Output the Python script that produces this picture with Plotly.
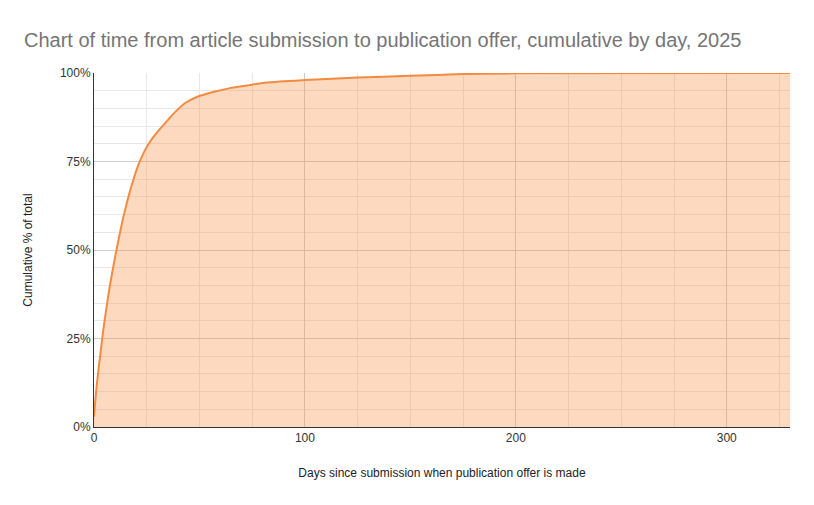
import plotly.graph_objects as go

# Days since submission and cumulative % of offers made by that day
days = [0, 1, 2, 3, 4, 5, 6, 7, 8, 10, 12, 14, 17, 19, 21, 24, 27, 31, 35, 39, 44, 49, 57, 65, 75, 82, 100, 125, 150, 175, 200, 330]
cum_pct = [2.9, 10, 15.5, 20.5, 25.5, 30, 34, 38, 41.5, 48, 54, 59.5, 66.5, 70.5, 74, 78, 81, 84, 86.7, 89.3, 91.8, 93.3, 94.7, 95.8, 96.7, 97.3, 98, 98.7, 99.2, 99.7, 99.9, 100]

y_ticks = [0, 25, 50, 75, 100]
x_ticks = [0, 100, 200, 300]

fig = go.Figure()
fig.add_trace(go.Scatter(
    x=days, y=cum_pct, mode="lines",
    line=dict(color="#F28B42", width=2, shape="spline", smoothing=0.8),
    fill="tozeroy", fillcolor="rgba(246,140,62,0.33)",
    hoverinfo="x+y", showlegend=False,
))

font_family = "Liberation Sans, Arial, sans-serif"
fig.update_layout(
    width=814, height=505,
    margin=dict(l=86, r=32, t=65, b=86),
    paper_bgcolor="white", plot_bgcolor="white",
    font=dict(family=font_family, size=12, color="#333333"),
    title=dict(
        text="Chart of time from article submission to publication offer, cumulative by day, 2025",
        x=16 / 814, xanchor="left", y=1 - 32 / 505, yanchor="middle",
        font=dict(family=font_family, size=20, color="#757575"),
    ),
    xaxis=dict(
        range=[0, 330], tickvals=x_ticks, ticktext=[str(v) for v in x_ticks],
        showgrid=True, gridcolor="#CCCCCC", gridwidth=1,
        minor=dict(dtick=25, showgrid=True, gridcolor="#E8E8E8", gridwidth=1),
        showline=True, linecolor="#333333", linewidth=1,
        zeroline=False, ticks="",
        tickfont=dict(size=12, color="#333333"),
        title=dict(text="Days since submission when publication offer is made",
                   font=dict(size=12, color="#222222"), standoff=24),
    ),
    yaxis=dict(
        range=[0, 100], tickvals=y_ticks, ticktext=[f"{v}%" for v in y_ticks],
        showgrid=True, gridcolor="#CCCCCC", gridwidth=1,
        minor=dict(dtick=5, showgrid=True, gridcolor="#E8E8E8", gridwidth=1),
        showline=True, linecolor="#333333", linewidth=1,
        zeroline=False, ticks="",
        tickfont=dict(size=12, color="#333333"),
        title=dict(text="Cumulative % of total",
                   font=dict(size=12, color="#222222"), standoff=24),
    ),
)

fig.write_html("out.html")
